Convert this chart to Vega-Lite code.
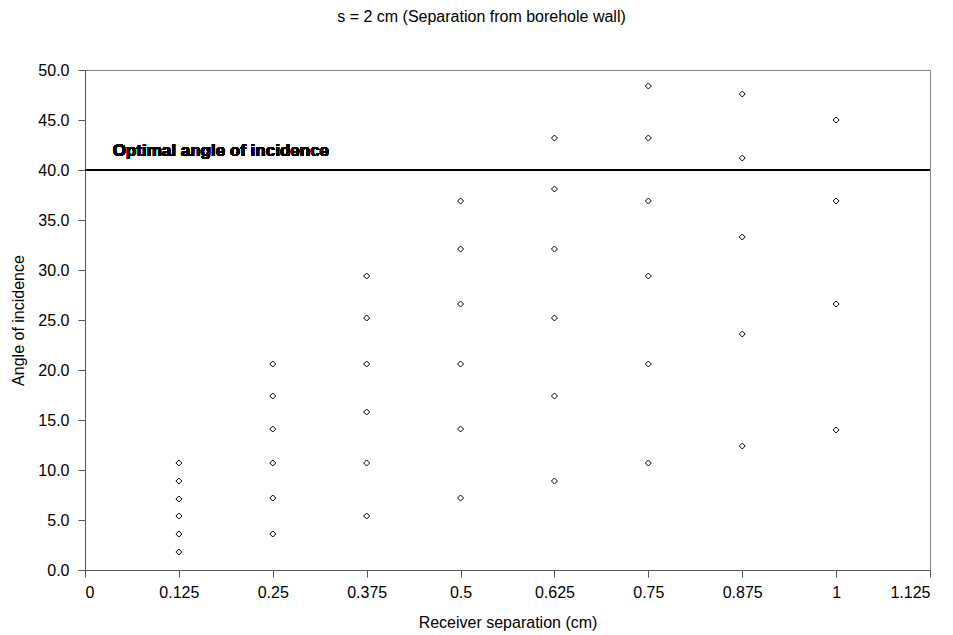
{
  "$schema": "https://vega.github.io/schema/vega-lite/v6.json",
  "width": 845,
  "height": 500,
  "autosize": {"type": "none"},
  "padding": {"left": 85, "top": 70, "right": 23, "bottom": 65},
  "background": "white",
  "title": {
    "text": "s = 2 cm (Separation from borehole wall)",
    "anchor": "middle",
    "frame": "group",
    "dx": -26,
    "baseline": "alphabetic",
    "offset": 24,
    "font": "Liberation Sans",
    "fontSize": 16,
    "fontWeight": "normal",
    "color": "black"
  },
  "config": {
    "view": {"stroke": "#808080", "strokeWidth": 1},
    "axis": {
      "labelFont": "Liberation Sans",
      "titleFont": "Liberation Sans",
      "labelFontSize": 16,
      "titleFontSize": 16,
      "titleFontWeight": "normal",
      "labelColor": "black",
      "titleColor": "black",
      "domainColor": "#555555",
      "tickColor": "#555555",
      "grid": false,
      "tickSize": 7,
      "labelPadding": 7
    }
  },
  "data": {
    "values": [
      {"sep": 0.125, "angle": 10.7},
      {"sep": 0.125, "angle": 8.9},
      {"sep": 0.125, "angle": 7.1},
      {"sep": 0.125, "angle": 5.4},
      {"sep": 0.125, "angle": 3.6},
      {"sep": 0.125, "angle": 1.8},
      {"sep": 0.25, "angle": 20.6},
      {"sep": 0.25, "angle": 17.4},
      {"sep": 0.25, "angle": 14.1},
      {"sep": 0.25, "angle": 10.7},
      {"sep": 0.25, "angle": 7.2},
      {"sep": 0.25, "angle": 3.6},
      {"sep": 0.375, "angle": 29.4},
      {"sep": 0.375, "angle": 25.2},
      {"sep": 0.375, "angle": 20.6},
      {"sep": 0.375, "angle": 15.8},
      {"sep": 0.375, "angle": 10.7},
      {"sep": 0.375, "angle": 5.4},
      {"sep": 0.5, "angle": 36.9},
      {"sep": 0.5, "angle": 32.1},
      {"sep": 0.5, "angle": 26.6},
      {"sep": 0.5, "angle": 20.6},
      {"sep": 0.5, "angle": 14.1},
      {"sep": 0.5, "angle": 7.2},
      {"sep": 0.625, "angle": 43.2},
      {"sep": 0.625, "angle": 38.1},
      {"sep": 0.625, "angle": 32.1},
      {"sep": 0.625, "angle": 25.2},
      {"sep": 0.625, "angle": 17.4},
      {"sep": 0.625, "angle": 8.9},
      {"sep": 0.75, "angle": 48.4},
      {"sep": 0.75, "angle": 43.2},
      {"sep": 0.75, "angle": 36.9},
      {"sep": 0.75, "angle": 29.4},
      {"sep": 0.75, "angle": 20.6},
      {"sep": 0.75, "angle": 10.7},
      {"sep": 0.875, "angle": 47.6},
      {"sep": 0.875, "angle": 41.2},
      {"sep": 0.875, "angle": 33.3},
      {"sep": 0.875, "angle": 23.6},
      {"sep": 0.875, "angle": 12.4},
      {"sep": 1, "angle": 45.0},
      {"sep": 1, "angle": 36.9},
      {"sep": 1, "angle": 26.6},
      {"sep": 1, "angle": 14.0}
    ]
  },
  "layer": [
    {
      "mark": {"type": "point", "shape": "diamond", "size": 36, "filled": false, "fill": "white", "stroke": "black", "strokeWidth": 1, "opacity": 1},
      "encoding": {
        "x": {
          "field": "sep",
          "type": "quantitative",
          "scale": {"domain": [0, 1.125], "nice": false, "zero": true},
          "axis": {
            "values": [0, 0.125, 0.25, 0.375, 0.5, 0.625, 0.75, 0.875, 1, 1.125],
            "labelExpr": "toString(datum.value)",
            "title": "Receiver separation (cm)",
            "titleY": 52,
            "titleBaseline": "middle"
          }
        },
        "y": {
          "field": "angle",
          "type": "quantitative",
          "scale": {"domain": [0, 50], "nice": false},
          "axis": {
            "values": [0, 5, 10, 15, 20, 25, 30, 35, 40, 45, 50],
            "format": ".1f",
            "labelPadding": 9,
            "title": "Angle of incidence",
            "titleX": -67,
            "titleY": 250,
            "titleBaseline": "middle",
            "titleAlign": "center",
            "titleAngle": -90
          }
        }
      }
    },
    {
      "mark": {"type": "rule", "stroke": "black", "strokeWidth": 2},
      "encoding": {"y": {"datum": 40}}
    },
    {
      "mark": {"type": "text", "text": "Optimal angle of incidence", "font": "Liberation Sans", "fontSize": 17, "fontWeight": "bold", "align": "left", "baseline": "alphabetic", "fill": "black"},
      "encoding": {"x": {"datum": 0.0369}, "y": {"datum": 41.45}}
    }
  ]
}
